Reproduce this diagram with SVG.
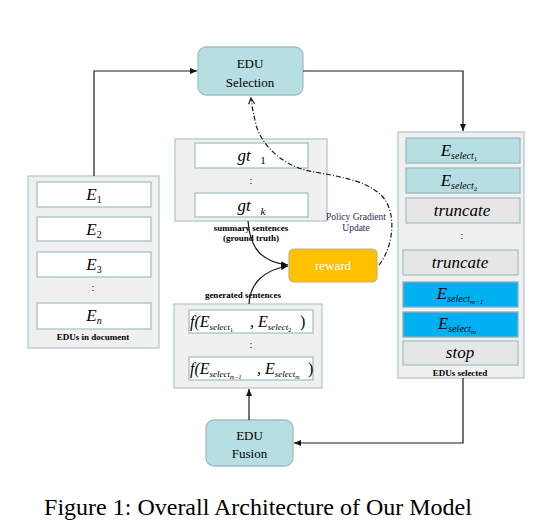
<svg xmlns="http://www.w3.org/2000/svg" width="557" height="531" viewBox="0 0 557 531">
<defs>
<style>
text{font-family:"Liberation Serif","Times New Roman",serif;fill:#000}
.cont{fill:#f0f0f0;stroke:#b5cacc;stroke-width:1.3}
.inner{fill:#fff;stroke:#a8c2c5;stroke-width:1.3}
.teal{fill:#b7dee2;stroke:#98bcc0;stroke-width:1.3}
.gray{fill:#e6e6e6;stroke:#a8c2c5;stroke-width:1.3}
.blue{fill:#00b0f0;stroke:#8fb0b5;stroke-width:1.3}
.node{fill:#b7dee2;stroke:#9dbfc3;stroke-width:1.3}
.it{font-style:italic;font-size:17px;text-anchor:middle}
.lbl{font-weight:bold;font-size:9px;text-anchor:middle}
.nl{font-size:13px;text-anchor:middle}
.sub{font-size:10px}
.ss{font-size:7px;font-style:normal}
.dots{font-size:10px;text-anchor:middle}
.conn{fill:none;stroke:#1a1a1a;stroke-width:1.2}
</style>
<marker id="ah" markerWidth="7" markerHeight="6" refX="7" refY="3" orient="auto" markerUnits="userSpaceOnUse">
<path d="M0,0 L7,3 L0,6 z" fill="#111"/>
</marker>
<marker id="oh" markerWidth="8" markerHeight="8" refX="7" refY="4" orient="auto" markerUnits="userSpaceOnUse">
<path d="M1,1 L7,4 L1,7" fill="none" stroke="#111" stroke-width="1.1"/>
</marker>
</defs>
<rect width="557" height="531" fill="#fff"/>

<g id="edu-selection">
<rect class="node" x="198" y="47" width="105" height="48" rx="8"/>
<text class="nl" x="250" y="68">EDU</text>
<text class="nl" x="250" y="87">Selection</text>
</g>

<g id="edus-in-document">
<rect class="cont" x="28" y="176" width="131" height="172"/>
<rect class="inner" x="37" y="182" width="114" height="25"/>
<text class="it" x="94" y="200">E<tspan class="sub" font-style="normal" dy="3">1</tspan></text>
<rect class="inner" x="37" y="217" width="114" height="24"/>
<text class="it" x="94" y="235">E<tspan class="sub" font-style="normal" dy="3">2</tspan></text>
<rect class="inner" x="37" y="252" width="114" height="25"/>
<text class="it" x="94" y="270">E<tspan class="sub" font-style="normal" dy="3">3</tspan></text>
<text class="dots" x="93" y="291">:</text>
<rect class="inner" x="37" y="303" width="114" height="26"/>
<text class="it" x="94" y="321">E<tspan class="sub" dy="3">n</tspan></text>
<text class="lbl" x="93" y="340">EDUs in document</text>
</g>

<g id="summary-sentences">
<rect class="cont" x="175" y="139" width="152" height="82"/>
<rect class="inner" x="195" y="143" width="113" height="25"/>
<text class="it" x="244" y="161" font-size="18">gt<tspan font-size="11" font-style="normal" x="263" dy="3">1</tspan></text>
<text class="dots" x="251" y="184">:</text>
<rect class="inner" x="195" y="193" width="113" height="24"/>
<text class="it" x="244" y="211" font-size="18">gt<tspan font-size="11" x="263" dy="4">k</tspan></text>
<text class="lbl" x="251" y="231">summary sentences</text>
<text class="lbl" x="251" y="241">(ground truth)</text>
</g>

<g id="policy-label">
<text x="356" y="220" font-size="9.5" text-anchor="middle" style="fill:#2a2a55">Policy Gradient</text>
<text x="356" y="231" font-size="9.5" text-anchor="middle" style="fill:#2a2a55">Update</text>
</g>

<g id="reward">
<rect x="289" y="249" width="88" height="33" rx="5" fill="#ffc000" stroke="#c9b27a" stroke-width="1.2"/>
<text class="nl" x="333" y="270" style="fill:#fff">reward</text>
</g>

<g id="generated-sentences">
<text class="lbl" x="243" y="298">generated sentences</text>
<rect class="cont" x="174" y="304" width="148" height="84"/>
<rect class="inner" x="189" y="310" width="124" height="23"/>
<text font-size="16" font-style="italic" x="190" y="327">f(E<tspan font-size="9" dy="3">select</tspan><tspan font-size="6" font-style="normal" dy="1.5">1</tspan><tspan x="250" dy="-4.5">, E</tspan><tspan font-size="9" dy="3">select</tspan><tspan font-size="6" font-style="normal" dy="1.5">2</tspan><tspan x="300" dy="-4.5" font-style="normal">)</tspan></text>
<text class="dots" x="251" y="348">:</text>
<rect class="inner" x="189" y="357" width="124" height="23"/>
<text font-size="16" font-style="italic" x="190" y="374">f(E<tspan font-size="9" dy="3">select</tspan><tspan font-size="6" dy="2">m−1</tspan><tspan x="257" dy="-5">, E</tspan><tspan font-size="9" dy="3">select</tspan><tspan font-size="6" dy="2">m</tspan><tspan x="308" dy="-5" font-style="normal">)</tspan></text>
</g>

<g id="edus-selected">
<rect class="cont" x="398" y="132" width="126" height="246"/>
<rect class="teal" x="406" y="138" width="114" height="25"/>
<text class="it" x="459" y="156">E<tspan class="sub" dy="3">select</tspan><tspan class="ss" dy="2">1</tspan></text>
<rect class="teal" x="406" y="168" width="114" height="25"/>
<text class="it" x="459" y="186">E<tspan class="sub" dy="3">select</tspan><tspan class="ss" dy="2">2</tspan></text>
<rect class="gray" x="406" y="198" width="114" height="25"/>
<text class="it" x="462" y="216">truncate</text>
<text class="dots" x="462" y="239">:</text>
<rect class="gray" x="403" y="250" width="115" height="25"/>
<text class="it" x="460" y="268">truncate</text>
<rect class="blue" x="403" y="282" width="115" height="25"/>
<text class="it" x="460" y="299">E<tspan class="sub" dy="3">select</tspan><tspan font-size="7" dy="2">m−1</tspan></text>
<rect class="blue" x="403" y="312" width="115" height="25"/>
<text class="it" x="457" y="329">E<tspan class="sub" dy="3">select</tspan><tspan font-size="7" dy="2">m</tspan></text>
<rect class="gray" x="403" y="341" width="115" height="24"/>
<text class="it" x="460" y="358">stop</text>
<text class="lbl" x="460" y="376">EDUs selected</text>
</g>

<g id="edu-fusion">
<rect class="node" x="206" y="420" width="87" height="46" rx="8"/>
<text class="nl" x="249.5" y="440">EDU</text>
<text class="nl" x="249.5" y="458">Fusion</text>
</g>

<g id="connectors">
<path class="conn" d="M94,176 V71 H197" stroke="#444" marker-end="url(#ah)"/>
<path class="conn" d="M303,71 H463 V131" marker-end="url(#ah)"/>
<path class="conn" d="M463,378 V443 H294" marker-end="url(#ah)"/>
<path class="conn" d="M249,420 V389" marker-end="url(#ah)"/>
<path class="conn" d="M248,221 C250,250 263,262 288,265" marker-end="url(#ah)"/>
<path class="conn" d="M249,304 C250,284 263,270 288,266" marker-end="url(#ah)"/>
<path class="conn" d="M379,265 C394,246 397,212 382,196 C364,178 332,176 305,170 C280,163 262,145 256,125 C254,115 252,108 251,98" stroke-dasharray="5,2,1,2" marker-end="url(#oh)"/>
</g>

<text x="258" y="515" font-size="24" text-anchor="middle">Figure 1: Overall Architecture of Our Model</text>
</svg>
